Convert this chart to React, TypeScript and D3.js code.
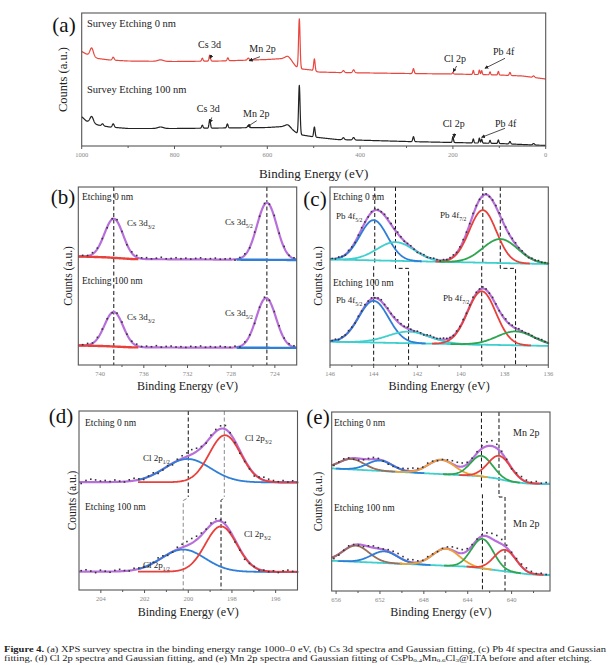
import React from "react";
import * as d3 from "d3";

type Pt = [number, number];
type Pk = [number, number, number]; // center, amplitude, sigma

const FONT = "'Liberation Serif', 'Times New Roman', serif";

// ---------------- (a) survey spectra ----------------
const A_TICKS = [1000, 800, 600, 400, 200, 0];
const A_MINOR = [900, 700, 500, 300, 100];
const A_TOP_BASE: Pt[] = [
  [1000, 94.5], [990, 92], [978, 90], [965, 87.5], [940, 86], [900, 85], [800, 84.5], [700, 85],
  [600, 86.5], [565, 87.5], [548, 85], [538, 79.5], [525, 77], [505, 76], [490, 74], [450, 73.5],
  [300, 72.5], [200, 72], [100, 71], [50, 70], [0, 67],
];
const A_TOP_PEAKS: Pk[] = [
  [978.5, 8, 3.5], [932, 3, 2], [830, 1.5, 6], [740, 3, 1.5], [724, 6, 1.5], [685, 3, 1.5],
  [641, 2, 2], [556, 3.5, 5], [531, 49, 1.6], [498.5, 12, 1.5], [436, 2, 2], [414, 3, 2],
  [285, 5, 1.5], [200, 1.5, 1.2], [156, 4, 1.2], [143, 4.5, 1.2], [138, 4, 1.2], [120, 3, 1.2],
  [102, 3.5, 1.2], [77, 3, 1.5], [26, 1.5, 2],
];
const A_BOT_BASE: Pt[] = [
  [1000, 29.3], [990, 25], [978, 23.5], [965, 21], [940, 19], [900, 17.5], [800, 17.5], [700, 18],
  [600, 18.5], [565, 19.5], [548, 17], [538, 13.5], [525, 11], [505, 9.5], [490, 8.5], [450, 6.5],
  [300, 4.5], [200, 3.5], [100, 2.5], [50, 1.5], [0, 0.5],
];
const A_BOT_PEAKS: Pk[] = [
  [978.5, 6, 3.5], [955, 2, 2], [932, 3.5, 2], [830, 1.5, 6], [740, 3, 1.5], [724, 8.5, 1.5],
  [686, 4, 1.5], [641, 2, 2], [556, 3, 5], [531, 48.5, 1.6], [498.5, 10, 1.5], [436, 2, 2],
  [414, 2.5, 2], [285, 5, 1.5], [200, 6, 1.2], [156, 4, 1.2], [143, 5, 1.2], [138, 4, 1.2],
  [120, 3, 1.2], [102, 3.5, 1.2], [77, 2.5, 1.5], [26, 1.5, 2],
];
const A_TOP_NOTES = [
  { label: "Cs 3d", E: 723.5, v: 87.7 },
  { label: "Mn 2p", E: 638.8, v: 85.3 },
  { label: "Cl 2p", E: 199.2, v: 74.3 },
  { label: "Pb 4f", E: 130.8, v: 77.7 },
];
const A_BOT_NOTES = [
  { label: "Cs 3d", E: 723.4, v: 23.3 },
  { label: "Mn 2p", E: 643, v: 19.3 },
  { label: "Cl 2p", E: 197, v: 8.7 },
  { label: "Pb 4f", E: 138, v: 8.7 },
];

// ---------------- (b) Cs 3d ----------------
const B_DOMAIN: Pt = [742, 722];
const B_TICKS = [740, 736, 732, 728, 724];
const B_MINOR = [738, 734, 730, 726];
const B_TOP_BASE: Pt[] = [[742, 61], [739.5, 60.5], [737, 59.5], [722, 59.0]];
const B_TOP_PEAKS: Pk[] = [[738.75, 22, 0.85], [724.73, 32, 0.9]];
const B_TOP_RESID = [0.6, 0.3, 0.8, 0.4, 0.2, -0.5, 0.3, 0.9, 0.2, -0.3, 0.7, 1.0, 0.5, 0.8, 0.2, 0.6, 1.1, 0.3, 0.5, 0.9, 0.4, 0.7, 0.2, 0.6, 0.9, 0.3, 0.5, 0.8, 0.2, 0.4, 0.6, -0.4, 0.5, 0.7, -0.3, 0.8, 0.2, 0.6, 0.3, 0.9, 0.4, 0.7, 0.1, 0.5];
const B_BOT_BASE: Pt[] = [[742, 11], [739.5, 10.6], [737, 9.9], [722, 9.6]];
const B_BOT_PEAKS: Pk[] = [[738.75, 19.4, 0.85], [724.8, 28, 0.9]];
const B_BOT_RESID = [0.4, 0.9, 0.2, 0.7, 0.5, 0.3, -0.2, 0.6, 0.8, 0.1, 0.5, 0.9, 0.3, 0.7, 0.4, 1.0, 0.2, 0.6, 0.8, 0.3, 0.5, 0.1, 0.7, 0.4, 0.9, 0.2, 0.6, 0.3, 0.8, 0.5, 0.2, 0.7, -0.4, 0.6, 0.3, -0.5, 0.4, 0.8, 0.2, 0.6, 0.9, 0.3, 0.5, 0.7];
const B_BG_RANGES: Pt[] = [[742, 736.5], [727.5, 722]];
const B_DASH: Pt[][] = [[[738.75, 100], [738.75, 0]], [[724.73, 100], [724.73, 0]]];

// ---------------- (c) Pb 4f ----------------
const C_DOMAIN: Pt = [146, 136];
const C_TICKS = [146, 144, 142, 140, 138, 136];
const C_MINOR = [145, 143, 141, 139, 137];
const C_TOP_BASE: Pt[] = [[146, 59.3], [136, 56.7]];
const C_TOP_PEAKS: Pk[] = [[144.0, 22.6, 0.63], [143.0, 10.5, 0.85], [139.0, 29.5, 0.62], [138.2, 13.5, 0.8]];
const C_TOP_RESID = [0.3, -0.2, 0.5, 0.1, -0.4, 0.6, 0.2, -0.3, 0.4, 0.8, 0.3, -0.1, 0.5, 0.9, 0.4, 0.2, 0.7, 1.0, 0.6, 0.3, 0.8, 0.4, -0.2, 0.3, 0.6, 0.1, -0.4, 0.2, 0.5, -0.1, 0.3, 0.6, 0.2, -0.3, 0.4, 0.1, 0.5, 0.8, 0.3, 0.6, 1.0, 0.7, 0.4, 0.9, 0.5, 0.2, 0.6, 0.3, -0.2, 0.4, 0.7, 0.5, 0.9, 0.4, 0.2, 0.6, 0.8, 0.3, 0.5, 0.1, -0.3, 0.4, 0.2, 0.6, 0.1, 0.3];
const C_BOT_BASE: Pt[] = [[146, 13.1], [136, 10.7]];
const C_BOT_PEAKS: Pk[] = [[144.0, 23.4, 0.68], [142.4, 6.5, 0.95], [139.05, 30, 0.65], [137.5, 7.8, 0.85]];
const C_BOT_RESID = [0.2, 0.6, -0.3, 0.4, 0.1, 0.7, 0.3, -0.2, 0.5, 0.2, 0.8, 0.4, 0.6, 0.1, 0.5, 0.9, 0.3, 0.7, 0.2, 0.6, 1.0, 0.5, 0.3, 0.8, 0.4, 0.1, 0.6, 0.3, -0.2, 0.5, 0.8, 0.4, 0.2, 0.6, 0.9, 0.5, 0.3, 0.1, 0.6, 0.4, 0.8, 0.3, 0.7, 1.1, 0.6, 0.4, 0.9, 0.5, 0.2, 0.7, 0.4, -0.1, 0.5, 0.8, 0.3, 0.6, 0.2, 0.7, 0.4, 0.1, 0.5, 0.3, -0.2, 0.4, 0.6, 0.2];
const C_DASH: Pt[][] = [
  [[143.95, 100], [143.95, 57.5]], [[144.0, 55.5], [144.0, 0]],
  [[143.0, 100], [143.0, 54.3], [142.4, 54.3], [142.4, 0]],
  [[139.0, 100], [139.0, 57.5]], [[139.05, 55.5], [139.05, 0]],
  [[138.2, 100], [138.2, 54.3], [137.5, 54.3], [137.5, 0]],
];

// ---------------- (d) Cl 2p ----------------
const D_DOMAIN: Pt = [205, 195];
const D_TICKS = [204, 202, 200, 198, 196];
const D_MINOR = [203, 201, 199, 197];
const D_TOP_BASE: Pt[] = [[205, 60.3], [195, 60.1]];
const D_TOP_PEAKS: Pk[] = [[200.03, 13, 1.05], [198.32, 26.3, 0.72]];
const D_TOP_RESID = [-0.8, 0.9, 1.6, 1.2, 0.6, 0.9, 0.3, 1.1, 0.4, -0.2, 0.8, 1.3, 0.5, -0.6, 0.4, 1.0, -0.8, -0.5, 0.3, -0.9, 0.8, 1.5, 2.0, 2.6, 1.8, 0.6, -0.4, 0.9, 1.2, 1.6, 2.1, 0.5, -0.8, -1.6, -1.0, -0.7, -1.3, 0.4, 1.6, 1.2, 0.8, 0.3, 1.0, 0.2, 0.9];
const D_BOT_BASE: Pt[] = [[205, 10.3], [195, 10.1]];
const D_BOT_PEAKS: Pk[] = [[200.23, 12.4, 1.0], [198.5, 25.4, 0.72]];
const D_BOT_RESID = [0.5, 1.0, 0.3, -0.6, 0.8, 0.2, -0.4, 0.6, 1.1, 0.3, -0.2, 0.9, 0.5, 0.1, -0.5, 0.4, 1.3, 0.8, -0.6, -0.3, 1.2, 1.8, 2.2, 2.6, 2.0, 1.2, 0.4, 1.0, 1.5, 0.8, 1.3, -0.6, -1.2, -0.8, -1.5, -0.4, 0.2, -0.6, 0.3, -0.2, 0.5, -0.4, 0.6, 1.0, 0.3];
const D_COMP_RANGE: Pt = [202.3, 195];
const D_DASH: Pt[][] = [
  [[200.0, 100], [200.0, 52]], [[198.35, 100], [198.35, 52]],
  [[200.08, 51], [200.23, 50], [200.23, 0]], [[198.42, 51], [198.5, 50], [198.5, 0]],
];
const D_DASH_GRAY = [false, true, true, false];

// ---------------- (e) Mn 2p ----------------
const E_DOMAIN: Pt = [656.4, 636.5];
const E_TICKS = [656, 652, 648, 644, 640];
const E_MINOR = [654, 650, 646, 642, 638];
const E_TOP_BASE: Pt[] = [[656.4, 68.5], [643, 64.2], [641.5, 63], [640, 61], [638.5, 60], [636.5, 59.8]];
const E_TOP_PEAKS: Pk[] = [[654.6, 5.8, 1.15], [652.0, 5.8, 1.15], [646.4, 8, 1.2], [642.75, 11.5, 1.0], [641.1, 13, 1.05]];
const E_TOP_RESID = [-0.5, 0.3, 0.8, 0.4, -0.6, -0.9, -0.4, 0.5, 1.0, 0.6, -0.3, -0.8, -0.5, 0.2, 0.9, 1.3, 1.6, 0.8, 0.4, 1.1, 0.6, -0.3, 0.2, 0.9, 1.8, 2.2, 2.0, 1.0, 0.5, 0.8, 1.6, 2.4, 3.0, 2.2, 1.0, 0.4, -0.5, 0.8, 1.4, 1.0, 0.6, 1.2, 0.3, 0.8];
const E_BOT_BASE: Pt[] = [[656.4, 16.9], [644, 13.6], [641, 11.3], [638.4, 9.3], [636.5, 8.9]];
const E_BOT_PEAKS: Pk[] = [[654.2, 9, 1.2], [651.6, 6.5, 1.2], [646.0, 9.5, 1.2], [642.66, 16.5, 1.0], [640.6, 12, 1.0]];
const E_BOT_RESID = [-1.0, -0.6, 0.2, 0.8, 0.3, -0.4, -0.8, 0.4, 1.0, 0.5, 0.3, 0.9, 1.4, 1.8, 1.6, 1.2, 1.5, 0.8, 0.3, 0.9, 0.5, -0.2, 0.4, 1.0, 1.9, 2.3, 2.0, 1.2, 0.6, 0.4, 0.8, 1.9, 3.0, 3.4, 2.6, 1.4, 0.6, 0.9, 1.3, 1.6, 1.0, 0.4, 0.8, 0.2];
const E_DASH: Pt[][] = [
  [[642.75, 100], [642.75, 57.5]], [[642.66, 54], [642.66, 0]],
  [[641.15, 100], [641.15, 52.5], [640.6, 52.5], [640.6, 0]],
];

// ---------------- styles ----------------
const PURPLE = "#b86fdc";
const BLUE = "#2f7ed8";
const RED = "#e8413b";
const CYAN = "#3fcfcf";
const GREEN = "#2fa551";
const ORANGE = "#eea234";
const BROWN = "#9b6d5c";
const C_COLORS = [BLUE, CYAN, RED, GREEN];
const D_COLORS = [BLUE, RED];
const E_COLORS = [BROWN, BLUE, ORANGE, GREEN, RED];

type Box = { l: number; r: number; t: number; b: number };
const BOX_A: Box = { l: 81.7, r: 545.7, t: 13, b: 146 };
const BOX_B: Box = { l: 78.3, r: 296.7, t: 187, b: 365 };
const BOX_C: Box = { l: 330, r: 548.3, t: 187, b: 365 };
const BOX_D: Box = { l: 79, r: 297.5, t: 411, b: 590 };
const BOX_E: Box = { l: 331.7, r: 550, t: 412, b: 591 };

const gauss = (E: number, p: Pk) => p[1] * Math.exp(-((E - p[0]) ** 2) / (2 * p[2] * p[2]));
const interp = (pts: Pt[]) =>
  d3.scaleLinear().domain(pts.map((p) => p[0])).range(pts.map((p) => p[1])).clamp(true);

function Frame({ box, x, ticks, minor, fs = 6.5 }: any) {
  return (
    <g>
      <rect x={box.l} y={box.t} width={box.r - box.l} height={box.b - box.t} fill="none" stroke="#555" strokeWidth={1.1} />
      {ticks.map((t: number) => (
        <g key={"t" + t}>
          <line x1={x(t)} x2={x(t)} y1={box.b} y2={box.b + 3} stroke="#555" strokeWidth={1} />
          <text x={x(t)} y={box.b + 11} fontSize={fs} fill="#888" textAnchor="middle" fontFamily={FONT}>{t}</text>
        </g>
      ))}
      {minor.map((t: number) => (
        <line key={"m" + t} x1={x(t)} x2={x(t)} y1={box.b} y2={box.b + 2} stroke="#555" strokeWidth={1} />
      ))}
    </g>
  );
}

function AxisTitles({ box, xTitleY, yTitleX, fsX = 12, fsY = 11.5 }: any) {
  const cx = (box.l + box.r) / 2;
  const cy = (box.t + box.b) / 2;
  return (
    <g fontFamily={FONT} fill="#222">
      <text x={cx} y={xTitleY} fontSize={fsX} textAnchor="middle">Binding Energy (eV)</text>
      <text transform={`translate(${yTitleX},${cy}) rotate(-90)`} fontSize={fsY} textAnchor="middle" dominantBaseline="central">Counts (a.u.)</text>
    </g>
  );
}

function Lbl({ x, y, main, sub, fs = 9 }: any) {
  return (
    <text x={x} y={y} fontSize={fs} fontFamily={FONT} fill="#222">
      {main}
      {sub ? <tspan fontSize={fs * 0.62} dy={fs * 0.3}>{sub}</tspan> : null}
    </text>
  );
}

function Survey({ base, peaks, color, x, y }: any) {
  const bf = interp(base);
  const grid = d3.range(1000, -0.001, -0.5);
  const line = d3.line<number>().x((E) => x(E)).y((E) => y(bf(E) + d3.sum(peaks, (p: Pk) => gauss(E, p))));
  return <path d={line(grid) || ""} fill="none" stroke={color} strokeWidth={1.2} strokeLinejoin="round" />;
}

function FitSpectrum({ x, y, domain, base, peaks, resid, colors, bgColor, bgRanges, bgColors, compRange, dotStep, dotStart, step }: any) {
  const bf = interp(base);
  const env = (E: number) => bf(E) + d3.sum(peaks, (p: Pk) => gauss(E, p));
  const grid = d3.range(domain[0], domain[1] - 1e-6, -step);
  const ln = (f: (E: number) => number) => d3.line<number>().x((E) => x(E)).y((E) => y(f(E)));
  const dots = d3.range(dotStart, domain[1], -dotStep);
  return (
    <g>
      <path d={ln(env)(grid) || ""} fill="none" stroke={PURPLE} strokeWidth={2.2} strokeLinejoin="round" />
      {bgColor ? <path d={ln(bf)(grid) || ""} fill="none" stroke={bgColor} strokeWidth={1.8} /> : null}
      {bgRanges
        ? bgRanges.map((r: Pt, i: number) => {
            const g = d3.range(r[0], r[1] - 1e-6, -step);
            return <path key={"bg" + i} d={ln(bf)(g) || ""} fill="none" stroke={bgColors[i]} strokeWidth={2.4} />;
          })
        : null}
      {colors
        ? peaks.map((p: Pk, i: number) => {
            const lo = compRange ? compRange[0] : Math.min(domain[0], p[0] + 3.5 * p[2]);
            const hi = compRange ? compRange[1] : Math.max(domain[1], p[0] - 3.5 * p[2]);
            const g = d3.range(lo, hi - 1e-6, -step);
            return <path key={"c" + i} d={ln((E) => bf(E) + gauss(E, p))(g) || ""} fill="none" stroke={colors[i]} strokeWidth={1.8} strokeLinejoin="round" />;
          })
        : null}
      {dots.map((E: number, i: number) => (
        <rect key={"d" + i} x={x(E) - 0.8} y={y(env(E) + (resid[i] ?? 0)) - 0.8} width={1.6} height={1.6} fill="#333" />
      ))}
    </g>
  );
}

function Dashes({ x, y, segs, gray }: any) {
  return (
    <g>
      {segs.map((s: Pt[], i: number) => (
        <path key={i} d={d3.line<Pt>().x((p) => x(p[0])).y((p) => y(p[1]))(s) || ""} fill="none"
          stroke={gray && gray[i] ? "#8a8a8a" : "#111"} strokeWidth={1} strokeDasharray="4,2.5" />
      ))}
    </g>
  );
}

const scales = (box: Box, domain: Pt, ymax = 100) => ({
  x: d3.scaleLinear().domain(domain).range([box.l, box.r]),
  y: d3.scaleLinear().domain([0, ymax]).range([box.b, box.t]),
});

export default function App() {
  const A = scales(BOX_A, [1000, 0], 133);
  const B = scales(BOX_B, B_DOMAIN);
  const C = scales(BOX_C, C_DOMAIN);
  const D = scales(BOX_D, D_DOMAIN);
  const E = scales(BOX_E, E_DOMAIN);

  const topNoteLayout = [
    { tail: [1.7, -3.3], txt: [-12, -10] },
    { tail: [10.7, -4], txt: [0, -8.7] },
    { tail: [3.4, -5.7], txt: [-9.3, -10.2] },
    { tail: [20, -10], txt: [8, -13.3] },
  ];
  const botNoteLayout = [
    { tail: [1.7, -5.3], txt: [-13.3, -10.7] },
    { tail: [9.4, -6], txt: [-4.3, -9.7] },
    { tail: [0, -4], txt: [-11.6, -10.3] },
    { tail: [23.3, -9], txt: [13.3, -10.3] },
  ];

  const notes = (list: any[], layout: any[]) =>
    list.map((n, i) => {
      const tx = A.x(n.E), ty = A.y(n.v);
      const L = layout[i];
      return (
        <g key={n.label + i}>
          <line x1={tx + L.tail[0]} y1={ty + L.tail[1]} x2={tx} y2={ty} stroke="#222" strokeWidth={0.8} markerEnd="url(#arr)" />
          <text x={tx + L.txt[0]} y={ty + L.txt[1]} fontSize={10} fontFamily={FONT} fill="#222">{n.label}</text>
        </g>
      );
    });

  return (
    <svg width={610} height={665} style={{ position: "absolute", left: 0, top: 0, background: "#fff" }} fontFamily={FONT}>
      <defs>
        <marker id="arr" viewBox="0 0 6 6" refX="5" refY="3" markerWidth="5" markerHeight="5" orient="auto">
          <path d="M0,0 L6,3 L0,6 z" fill="#222" />
        </marker>
      </defs>

      {/* (a) */}
      <Survey base={A_TOP_BASE} peaks={A_TOP_PEAKS} color="#e8473f" x={A.x} y={A.y} />
      <Survey base={A_BOT_BASE} peaks={A_BOT_PEAKS} color="#222" x={A.x} y={A.y} />
      <Frame box={BOX_A} x={A.x} ticks={A_TICKS} minor={A_MINOR} />
      {notes(A_TOP_NOTES, topNoteLayout)}
      {notes(A_BOT_NOTES, botNoteLayout)}
      <text x={87} y={27} fontSize={10.5} fill="#222">Survey Etching 0 nm</text>
      <text x={87} y={93} fontSize={10.5} fill="#222">Survey Etching 100 nm</text>
      <text x={64} y={32} fontSize={21} textAnchor="middle" fill="#111">(a)</text>
      <AxisTitles box={BOX_A} xTitleY={178} yTitleX={63} fsX={13} fsY={12.5} />

      {/* (b) */}
      <Dashes x={B.x} y={B.y} segs={B_DASH} />
      <FitSpectrum x={B.x} y={B.y} domain={B_DOMAIN} base={B_TOP_BASE} peaks={B_TOP_PEAKS} resid={B_TOP_RESID}
        bgRanges={B_BG_RANGES} bgColors={[RED, BLUE]} dotStart={741.6} dotStep={0.45} step={0.05} />
      <FitSpectrum x={B.x} y={B.y} domain={B_DOMAIN} base={B_BOT_BASE} peaks={B_BOT_PEAKS} resid={B_BOT_RESID}
        bgRanges={B_BG_RANGES} bgColors={[RED, BLUE]} dotStart={741.6} dotStep={0.45} step={0.05} />
      <Frame box={BOX_B} x={B.x} ticks={B_TICKS} minor={B_MINOR} />
      <text x={82} y={200} fontSize={9.5} fill="#222">Etching 0 nm</text>
      <text x={82} y={284} fontSize={9.5} fill="#222">Etching 100 nm</text>
      <Lbl x={127} y={226} main="Cs 3d" sub="3/2" />
      <Lbl x={225} y={225} main="Cs 3d" sub="5/2" />
      <Lbl x={127} y={320} main="Cs 3d" sub="3/2" />
      <Lbl x={225} y={316} main="Cs 3d" sub="5/2" />
      <text x={63} y={204} fontSize={21} textAnchor="middle" fill="#111">(b)</text>
      <AxisTitles box={BOX_B} xTitleY={390} yTitleX={68} />

      {/* (c) */}
      <Dashes x={C.x} y={C.y} segs={C_DASH} />
      <FitSpectrum x={C.x} y={C.y} domain={C_DOMAIN} base={C_TOP_BASE} peaks={C_TOP_PEAKS} resid={C_TOP_RESID}
        colors={C_COLORS} bgColor={CYAN} dotStart={145.9} dotStep={0.15} step={0.03} />
      <FitSpectrum x={C.x} y={C.y} domain={C_DOMAIN} base={C_BOT_BASE} peaks={C_BOT_PEAKS} resid={C_BOT_RESID}
        colors={C_COLORS} bgColor={CYAN} dotStart={145.9} dotStep={0.15} step={0.03} />
      <Frame box={BOX_C} x={C.x} ticks={C_TICKS} minor={C_MINOR} />
      <text x={333} y={200} fontSize={9.5} fill="#222">Etching 0 nm</text>
      <text x={333} y={286} fontSize={9.5} fill="#222">Etching 100 nm</text>
      <Lbl x={336} y={219} main="Pb 4f" sub="5/2" />
      <Lbl x={440} y={218} main="Pb 4f" sub="7/2" />
      <Lbl x={336} y={303} main="Pb 4f" sub="5/2" />
      <Lbl x={443} y={301} main="Pb 4f" sub="7/2" />
      <text x={315} y={206} fontSize={21} textAnchor="middle" fill="#111">(c)</text>
      <AxisTitles box={BOX_C} xTitleY={390} yTitleX={318} />

      {/* (d) */}
      <Dashes x={D.x} y={D.y} segs={D_DASH} gray={D_DASH_GRAY} />
      <FitSpectrum x={D.x} y={D.y} domain={D_DOMAIN} base={D_TOP_BASE} peaks={D_TOP_PEAKS} resid={D_TOP_RESID}
        colors={D_COLORS} compRange={D_COMP_RANGE} dotStart={204.9} dotStep={0.22} step={0.03} />
      <FitSpectrum x={D.x} y={D.y} domain={D_DOMAIN} base={D_BOT_BASE} peaks={D_BOT_PEAKS} resid={D_BOT_RESID}
        colors={D_COLORS} compRange={D_COMP_RANGE} dotStart={204.9} dotStep={0.22} step={0.03} />
      <Frame box={BOX_D} x={D.x} ticks={D_TICKS} minor={D_MINOR} />
      <text x={85} y={426} fontSize={9.5} fill="#222">Etching 0 nm</text>
      <text x={85} y={510} fontSize={9.5} fill="#222">Etching 100 nm</text>
      <Lbl x={143} y={461} main="Cl 2p" sub="1/2" />
      <Lbl x={245} y={441} main="Cl 2p" sub="3/2" />
      <Lbl x={143} y={568} main="Cl 2p" sub="1/2" />
      <Lbl x={244} y={537} main="Cl 2p" sub="3/2" />
      <text x={61} y={423} fontSize={21} textAnchor="middle" fill="#111">(d)</text>
      <AxisTitles box={BOX_D} xTitleY={616} yTitleX={72} />

      {/* (e) */}
      <Dashes x={E.x} y={E.y} segs={E_DASH} />
      <FitSpectrum x={E.x} y={E.y} domain={E_DOMAIN} base={E_TOP_BASE} peaks={E_TOP_PEAKS} resid={E_TOP_RESID}
        colors={E_COLORS} bgColor={CYAN} dotStart={656.2} dotStep={0.45} step={0.05} />
      <FitSpectrum x={E.x} y={E.y} domain={E_DOMAIN} base={E_BOT_BASE} peaks={E_BOT_PEAKS} resid={E_BOT_RESID}
        colors={E_COLORS} bgColor={CYAN} dotStart={656.2} dotStep={0.45} step={0.05} />
      <Frame box={BOX_E} x={E.x} ticks={E_TICKS} minor={E_MINOR} />
      <text x={334} y={426} fontSize={9.5} fill="#222">Etching 0 nm</text>
      <text x={334} y={511} fontSize={9.5} fill="#222">Etching 100 nm</text>
      <text x={513} y={436} fontSize={10} fill="#222">Mn 2p</text>
      <text x={513} y={527} fontSize={10} fill="#222">Mn 2p</text>
      <text x={318} y={424} fontSize={21} textAnchor="middle" fill="#111">(e)</text>
      <AxisTitles box={BOX_E} xTitleY={616} yTitleX={318} />

      {/* caption */}
      <text x={4} y={651.5} fontSize={7.4} fill="#222" textLength={602} lengthAdjust="spacingAndGlyphs">
        <tspan fontWeight="bold">Figure 4.</tspan> (a) XPS survey spectra in the binding energy range 1000–0 eV, (b) Cs 3d spectra and Gaussian fitting, (c) Pb 4f spectra and Gaussian
      </text>
      <text x={4} y={660.5} fontSize={7.4} fill="#222" textLength={588} lengthAdjust="spacingAndGlyphs">
        fitting, (d) Cl 2p spectra and Gaussian fitting, and (e) Mn 2p spectra and Gaussian fitting of CsPb
        <tspan fontSize={5} dy={1.5}>0.4</tspan>
        <tspan dy={-1.5}>Mn</tspan>
        <tspan fontSize={5} dy={1.5}>0.6</tspan>
        <tspan dy={-1.5}>Cl</tspan>
        <tspan fontSize={5} dy={1.5}>3</tspan>
        <tspan dy={-1.5}>@LTA before and after etching.</tspan>
      </text>
    </svg>
  );
}
